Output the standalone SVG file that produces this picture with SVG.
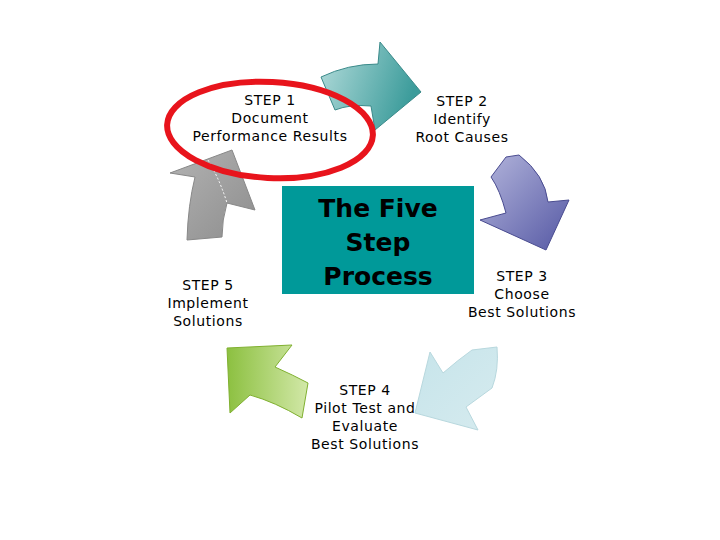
<svg xmlns="http://www.w3.org/2000/svg" width="720" height="540" viewBox="0 0 720 540">
<defs>
<linearGradient id="g1" x1="0" y1="0" x2="1" y2="0.3"><stop offset="0" stop-color="#b4dcdb"/><stop offset="1" stop-color="#3c9c9b"/></linearGradient>
<linearGradient id="g2" x1="0" y1="0" x2="1" y2="1"><stop offset="0" stop-color="#b3b3b3"/><stop offset="1" stop-color="#8d8d8d"/></linearGradient>
<linearGradient id="g3" x1="0" y1="0" x2="1" y2="1"><stop offset="0" stop-color="#b4b6dc"/><stop offset="1" stop-color="#5558a4"/></linearGradient>
<linearGradient id="g4" x1="0" y1="0" x2="1" y2="1"><stop offset="0" stop-color="#c6e4ea"/><stop offset="1" stop-color="#d6ebef"/></linearGradient>
<linearGradient id="g5" x1="0" y1="0" x2="1" y2="0"><stop offset="0" stop-color="#8cc040"/><stop offset="1" stop-color="#d2e8a8"/></linearGradient>
<style>
.t{font-family:"DejaVu Sans",Verdana,sans-serif;font-size:14px;letter-spacing:0.6px;fill:#000;text-anchor:middle}
.h{font-family:"DejaVu Sans",Verdana,sans-serif;font-size:25px;font-weight:bold;fill:#000;text-anchor:middle}
.a{stroke-width:1}
</style>
</defs>
<rect width="720" height="540" fill="#fff"/>
<g id="arrows">
<path id="arrow1" class="a" d="M321,77 Q348,64 378,64 L380,42 L421,92 L375,130 L371,106 Q350,104 335,110 Z" fill="url(#g1)" stroke="#3a8a8a"/>
<path id="arrow3" class="a" d="M506,157 L519,155 Q545,175 548,202 L569,200 L546,250 L480,220 L506,213 Q500,190 491,177 Z" fill="url(#g3)" stroke="#4a4c90"/>
<path id="arrow4" class="a" d="M472,350 L497,347 Q499,370 492,388 L466,407 L478,430 L415,413 L430,352 L443,373 Q458,360 472,350 Z" fill="url(#g4)" stroke="#b8d8de"/>
<path id="arrow5" class="a" d="M227,348 L292,345 L275,367 Q293,375 308,383 L302,418 Q275,402 250,395 L230,413 Z" fill="url(#g5)" stroke="#80b030"/>
<path id="arrow2" class="a" d="M170,173 L232,150 L255,210 L227,203 Q222,220 222,237 L187,240 Q188,205 195,177 Z" fill="url(#g2)" stroke="#888"/>
<path d="M208,160 Q220,180 227,203" fill="none" stroke="#fff" stroke-width="1" stroke-dasharray="2,2"/>
</g>
<g id="center">
<rect x="282" y="186" width="192" height="108" fill="#009999"/>
<text class="h" x="378" y="217">The Five</text>
<text class="h" x="378" y="251">Step</text>
<text class="h" x="378" y="285">Process</text>
</g>
<g id="step1">
<text class="t" x="270" y="105">STEP 1</text>
<text class="t" x="270" y="123">Document</text>
<text class="t" x="270" y="141">Performance Results</text>
</g>
<g id="step2">
<text class="t" x="462" y="106">STEP 2</text>
<text class="t" x="462" y="124">Identify</text>
<text class="t" x="462" y="142">Root Causes</text>
</g>
<g id="step3">
<text class="t" x="522" y="281">STEP 3</text>
<text class="t" x="522" y="299">Choose</text>
<text class="t" x="522" y="317">Best Solutions</text>
</g>
<g id="step4">
<text class="t" x="365" y="395">STEP 4</text>
<text class="t" x="365" y="413">Pilot Test and</text>
<text class="t" x="365" y="431">Evaluate</text>
<text class="t" x="365" y="449">Best Solutions</text>
</g>
<g id="step5">
<text class="t" x="208" y="290">STEP 5</text>
<text class="t" x="208" y="308">Implement</text>
<text class="t" x="208" y="326">Solutions</text>
</g>
<g id="highlight">
<ellipse cx="270" cy="130" rx="103" ry="48" fill="none" stroke="#e8141c" stroke-width="6" transform="rotate(3 270 130)"/>
</g>
</svg>
